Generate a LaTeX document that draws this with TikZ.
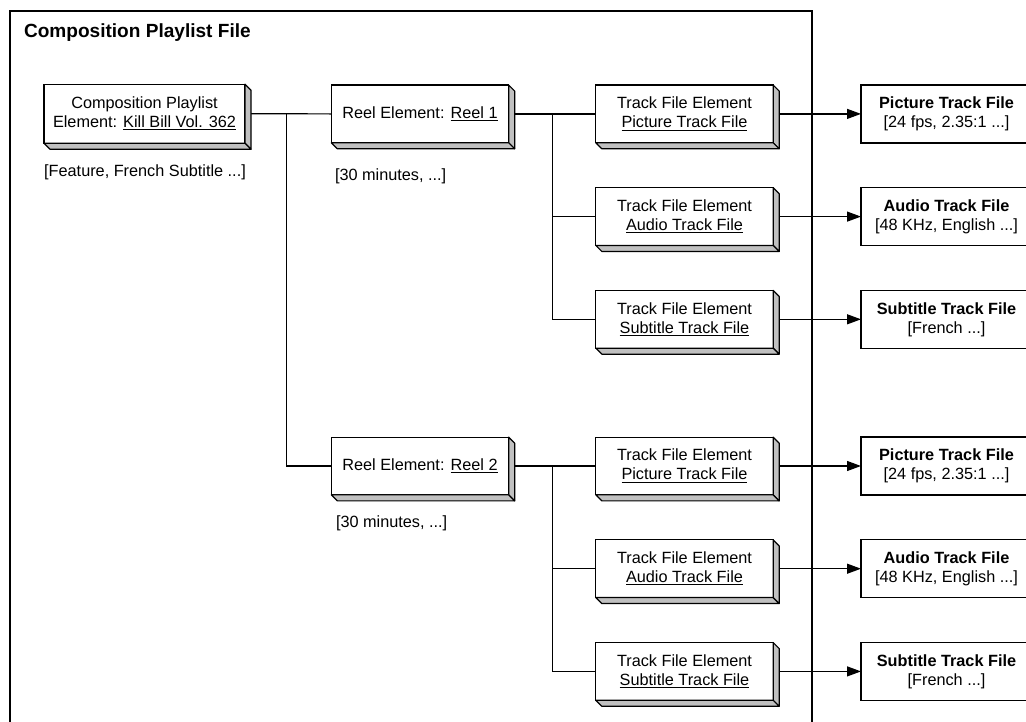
\documentclass[tikz,border=0pt]{standalone}
\usepackage{fontspec}
\setmainfont{Liberation Sans}
\usetikzlibrary{arrows.meta,calc}

\definecolor{facegray}{HTML}{C0C0C0}

\newcommand{\txtfont}{\fontsize{12.2}{14.25}\selectfont}

% grey right and bottom faces of a raised element box
\newcommand{\extrude}[1]{%
  \filldraw[sideface] (#1.north east) -- ++(6,6) -- ($(#1.south east)+(6,6)$) -- (#1.south east) -- cycle;
  \filldraw[sideface] (#1.south west) -- ++(6,6) -- ($(#1.south east)+(6,6)$) -- (#1.south east) -- cycle;}

\tikzset{
  every node/.style={outer sep=0pt, inner sep=0pt},
  elem/.style={draw, fill=white, line width=0.9pt, minimum width=133pt,
    minimum height=43.3pt, align=center, font=\txtfont},
  cplbox/.style={elem, minimum width=150.75pt, minimum height=44.25pt},
  filebox/.style={draw, fill=white, line width=0.9pt, minimum width=128.25pt,
    minimum height=43.5pt, align=center, font=\txtfont},
  note/.style={font=\txtfont},
  sideface/.style={fill=facegray, draw, line width=0.9pt, line join=round},
  link/.style={line width=0.9pt},
  feed/.style={link, -{Triangle[length=10.5pt,width=7.5pt]}},
  frame/.style={draw, line width=0.9pt}
}

\begin{document}
\begin{tikzpicture}[x=0.75pt, y=-0.75pt]
\useasboundingbox (0,0) rectangle (1026,722);
\clip (0,0) rectangle (1026,722);

% outer file frame
\draw[frame] (10,11) rectangle (812,760);
\node[anchor=base west, font=\fontsize{14.3}{17}\selectfont\bfseries] (title) at (24,37) {Composition Playlist File};

% composition playlist element
\node[cplbox] (cpl) at (144.5,113.7) {Composition Playlist\\Element: \underline{Kill Bill Vol. 362}};
\node[note] (cplnote) at (145,172.5) {[Feature, French Subtitle ...]};

% reel elements
\node[elem] (reel1) at (420,113.9) {Reel Element: \underline{Reel 1}};
\node[note, anchor=west] (r1note) at (335,176) {[30 minutes, ...]};
\node[elem] (reel2) at (420,466) {Reel Element: \underline{Reel 2}};
\node[note, anchor=west] (r2note) at (336,523) {[30 minutes, ...]};

% track file elements
\node[elem] (tp1) at (684.5,113.9) {Track File Element\\\underline{Picture Track File}};
\node[elem] (ta1) at (684.5,216.6) {Track File Element\\\underline{Audio Track File}};
\node[elem] (ts1) at (684.5,319.3) {Track File Element\\\underline{Subtitle Track File}};
\node[elem] (tp2) at (684.5,466) {Track File Element\\\underline{Picture Track File}};
\node[elem] (ta2) at (684.5,568.7) {Track File Element\\\underline{Audio Track File}};
\node[elem] (ts2) at (684.5,671.4) {Track File Element\\\underline{Subtitle Track File}};

% track files
\node[filebox] (fp1) at (946.5,113.9) {\textbf{Picture Track File}\\{}[24 fps, 2.35:1 ...]};
\node[filebox] (fa1) at (946.5,216.6) {\textbf{Audio Track File}\\{}[48 KHz, English ...]};
\node[filebox] (fs1) at (946.5,319.3) {\textbf{Subtitle Track File}\\{}[French ...]};
\node[filebox] (fp2) at (946.5,466) {\textbf{Picture Track File}\\{}[24 fps, 2.35:1 ...]};
\node[filebox] (fa2) at (946.5,568.7) {\textbf{Audio Track File}\\{}[48 KHz, English ...]};
\node[filebox] (fs2) at (946.5,671.4) {\textbf{Subtitle Track File}\\{}[French ...]};

% tree connectors
\coordinate (split0) at (286.7,113.9);
\coordinate (split1) at (552.7,113.9);
\coordinate (split2) at (552.7,466);
\draw[link] (cpl.east) -- (reel1.west);
\draw[link] (split0) |- (reel2.west);
\draw[link] (reel1.east) -- (tp1.west);
\draw[link] (split1) |- (ta1.west);
\draw[link] (split1) |- (ts1.west);
\draw[link] (reel2.east) -- (tp2.west);
\draw[link] (split2) |- (ta2.west);
\draw[link] (split2) |- (ts2.west);

% references to the track files
\draw[feed] (tp1.east) -- (fp1.west);
\draw[feed] (ta1.east) -- (fa1.west);
\draw[feed] (ts1.east) -- (fs1.west);
\draw[feed] (tp2.east) -- (fp2.west);
\draw[feed] (ta2.east) -- (fa2.west);
\draw[feed] (ts2.east) -- (fs2.west);

% raised look of the element boxes
\extrude{cpl}
\extrude{reel1}
\extrude{reel2}
\extrude{tp1}
\extrude{ta1}
\extrude{ts1}
\extrude{tp2}
\extrude{ta2}
\extrude{ts2}
\end{tikzpicture}
\end{document}
